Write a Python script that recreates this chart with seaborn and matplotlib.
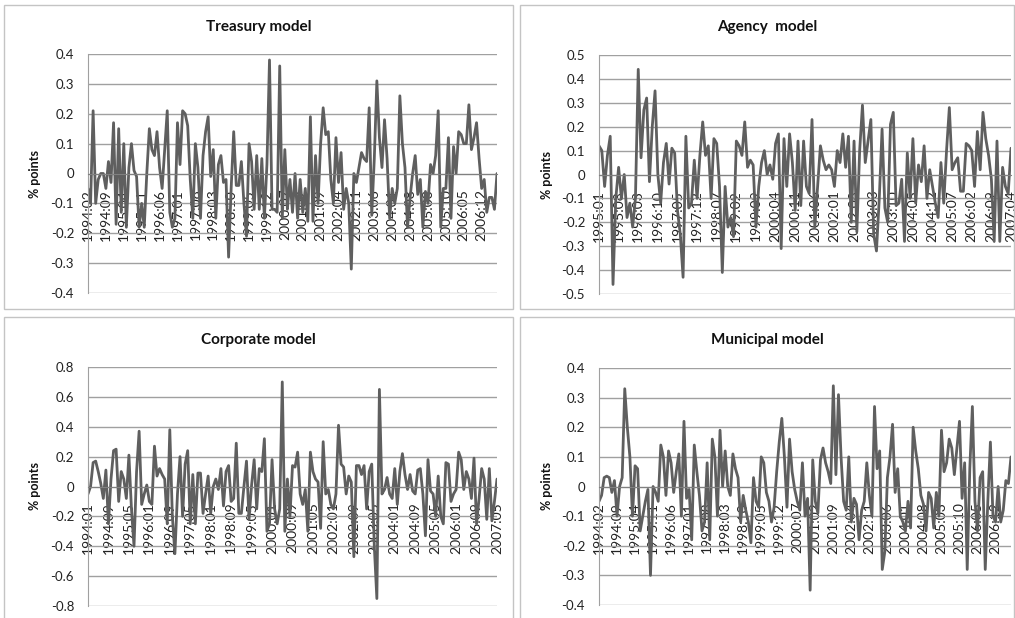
import numpy as np
import pandas as pd
import seaborn as sns
import matplotlib.pyplot as plt
from matplotlib.patches import Rectangle

# monthly residuals, % points
treasury = [-0.05, -0.10, 0.21, -0.10, -0.02, 0.0, 0.0, -0.05, 0.04, -0.03,
            0.17, -0.17, 0.15, -0.13, 0.10, -0.18, 0.02, 0.10, 0.01, -0.01,
            -0.18, -0.10, -0.18, 0.0, 0.15, 0.08, 0.06, 0.14, 0.02, -0.05,
            0.08, 0.21, -0.13, -0.18, -0.15, 0.17, 0.03, 0.21, 0.20, 0.16,
            -0.02, -0.15, 0.10, 0.02, -0.15, 0.06, 0.14, 0.19, -0.01, 0.08,
            -0.15, 0.03, 0.06, -0.03, -0.02, -0.28, -0.05, 0.14, -0.04, -0.04,
            0.04, -0.10, -0.21, 0.10, 0.04, -0.12, 0.06, -0.12, 0.05, -0.15,
            0.03, 0.38, -0.12, -0.12, -0.13, 0.36, -0.15, 0.08, -0.12, -0.02,
            -0.13, 0.0, -0.15, -0.02, -0.13, -0.05, -0.16, 0.19, -0.16, 0.06,
            -0.10, 0.10, 0.22, 0.13, 0.14, -0.02, -0.10, 0.12, -0.03, 0.07,
            -0.12, -0.05, -0.10, -0.32, 0.0, -0.03, 0.02, 0.07, 0.05, 0.04,
            0.22, -0.14, 0.05, 0.31, 0.12, 0.02, 0.18, 0.05, -0.15, -0.05,
            -0.10, -0.05, 0.26, 0.10, 0.02, -0.18, -0.08, 0.0, 0.06, -0.07,
            -0.02, -0.18, -0.06, -0.10, 0.03, 0.0, 0.06, 0.21, -0.18, -0.05,
            -0.05, 0.12, -0.15, 0.09, 0.0, 0.14, 0.13, 0.10, 0.10, 0.23,
            0.08, 0.12, 0.17, 0.05, -0.05, -0.02, -0.13, -0.08, -0.08, -0.12,
            0.0]

agency = [0.12, 0.10, -0.05, 0.08, 0.16, -0.46, -0.10, 0.03, -0.10, 0.0,
          -0.18, -0.12, -0.22, -0.10, 0.44, 0.07, 0.27, 0.32, -0.03, 0.20,
          0.35, 0.0, -0.12, 0.05, 0.13, -0.04, 0.11, 0.09, -0.15, -0.25,
          -0.43, 0.16, -0.14, -0.12, 0.06, -0.10, 0.08, 0.22, 0.08, 0.12,
          -0.10, 0.15, 0.13, -0.05, -0.41, -0.05, -0.22, -0.18, -0.26, 0.14,
          0.12, 0.08, 0.22, 0.03, 0.06, 0.04, -0.22, -0.05, 0.05, 0.10,
          0.0, 0.04, -0.02, 0.13, 0.17, -0.31, 0.15, -0.05, 0.17, 0.05,
          -0.15, 0.14, -0.13, 0.14, -0.05, -0.08, 0.23, -0.22, -0.05, 0.12,
          0.06, 0.02, 0.04, 0.02, -0.05, 0.10, 0.05, 0.17, 0.03, 0.16,
          -0.20, 0.14, -0.24, 0.10, 0.29, 0.05, 0.14, 0.23, -0.25, -0.32,
          -0.10, 0.19, -0.14, -0.20, 0.21, 0.26, -0.13, -0.12, -0.02, -0.28,
          0.09, -0.10, 0.15, -0.12, 0.04, -0.03, 0.12, -0.10, 0.02, -0.05,
          -0.12, -0.18, 0.05, -0.12, 0.10, 0.28, 0.02, 0.05, 0.07, -0.07,
          -0.07, 0.13, 0.12, 0.10, -0.05, 0.18, 0.02, 0.26, 0.15, 0.08,
          -0.02, -0.28, 0.14, -0.28, 0.03, -0.05, -0.08, 0.11]

corporate = [-0.05, 0.0, 0.16, 0.17, 0.10, 0.02, -0.08, 0.11, -0.25, 0.05,
             0.24, 0.25, -0.10, 0.10, 0.05, -0.08, 0.21, -0.15, -0.40, 0.10,
             0.37, -0.12, -0.05, 0.01, -0.10, -0.12, 0.27, 0.07, 0.12, 0.08,
             0.05, -0.25, 0.38, -0.20, -0.45, -0.05, 0.20, -0.20, 0.15, 0.24,
             -0.25, 0.08, -0.25, 0.09, 0.09, -0.18, -0.05, 0.07, -0.18, 0.0,
             0.05, -0.02, 0.12, -0.13, 0.10, 0.14, -0.10, -0.08, 0.29, -0.18,
             -0.18, 0.0, 0.17, -0.22, 0.01, 0.18, -0.15, 0.12, 0.10, 0.32,
             -0.30, -0.25, 0.18, -0.15, -0.25, -0.15, 0.70, -0.30, 0.05, -0.20,
             0.14, 0.13, 0.23, -0.05, -0.12, -0.02, -0.30, 0.23, 0.10, 0.05,
             0.03, -0.28, 0.30, -0.05, -0.02, -0.12, -0.15, -0.05, 0.41, 0.15,
             0.13, -0.05, 0.07, 0.03, -0.47, 0.14, 0.14, 0.08, 0.14, -0.15,
             0.10, 0.15, -0.40, -0.75, 0.65, -0.05, -0.02, 0.06, -0.05, -0.08,
             0.12, -0.12, 0.10, 0.22, 0.08, -0.02, 0.08, -0.03, -0.05, 0.11,
             0.12, -0.05, -0.33, 0.18, -0.03, -0.05, -0.20, 0.07, -0.20, -0.25,
             0.16, 0.15, -0.10, -0.05, -0.02, 0.23, 0.18, -0.02, 0.10, 0.05,
             -0.08, 0.19, -0.25, -0.08, 0.12, 0.05, -0.22, 0.12, -0.23, -0.10,
             0.05]

municipal = [-0.05, -0.03, 0.03, 0.035, 0.03, -0.02, 0.02, -0.10, 0.0, 0.03,
             0.33, 0.20, 0.10, -0.10, 0.07, 0.06, -0.15, -0.10, -0.05, -0.01,
             -0.30, 0.0, -0.02, -0.05, 0.14, 0.10, -0.03, 0.12, 0.08, -0.02,
             0.05, 0.11, -0.10, 0.22, -0.04, -0.01, -0.18, 0.14, 0.05, -0.03,
             -0.15, -0.12, 0.08, -0.18, 0.16, 0.10, -0.10, 0.19, 0.0, 0.12,
             0.0, -0.03, 0.11, 0.06, 0.03, -0.12, -0.03, -0.08, -0.12, -0.19,
             0.03, -0.05, -0.07, 0.10, 0.08, -0.02, -0.05, -0.12, -0.07, 0.05,
             0.15, 0.23, 0.10, -0.07, 0.16, 0.05, -0.01, -0.05, -0.08, 0.08,
             -0.10, -0.04, -0.35, 0.09, -0.05, -0.09, 0.09, 0.13, 0.08, 0.05,
             0.01, 0.34, 0.04, 0.31, 0.10, -0.05, -0.08, 0.10, -0.12, -0.04,
             -0.06, -0.18, -0.08, -0.05, 0.08, -0.03, -0.10, 0.27, 0.06, 0.12,
             -0.28, -0.22, 0.03, 0.10, 0.21, -0.02, 0.06, -0.10, -0.12, -0.15,
             -0.05, -0.14, 0.20, 0.12, 0.06, -0.03, -0.06, -0.15, -0.02, -0.04,
             -0.14, -0.02, -0.10, 0.19, 0.05, 0.08, 0.16, 0.13, 0.04, 0.13,
             0.22, -0.04, 0.08, -0.28, 0.06, 0.27, -0.05, -0.15, 0.03, 0.05,
             -0.28, -0.05, 0.15, -0.10, -0.12, 0.0, -0.12, -0.08, 0.02, 0.01,
             0.10]

titles = ['Treasury model', 'Agency  model', 'Corporate model', 'Municipal model']
starts = ['1994-02', '1995-01', '1994-01', '1994-02']
label_step = [7, 7, 8, 7]
y_ranges = [(-0.4, 0.4, 0.1), (-0.5, 0.5, 0.1), (-0.8, 0.8, 0.2), (-0.4, 0.4, 0.1)]
series = [treasury, agency, corporate, municipal]

sns.set_style('white')
plt.rcParams['font.family'] = ['Lato', 'DejaVu Sans']

W, H = 1015, 618
fig = plt.figure(figsize=(W / 100, H / 100), dpi=100)

# panel boxes (px: x0, y0, x1, y1) and plot areas
boxes = [(4, 5, 513, 309), (520, 5, 1014, 309), (4, 317, 513, 640), (520, 317, 1014, 640)]
areas = [(88, 54, 497, 293), (599, 55, 1011, 294), (88, 367, 497, 606), (599, 368, 1011, 605)]

line_col = '#5f5f5f'
grid_col = '#a0a0a0'

for i in range(4):
    bx0, by0, bx1, by1 = boxes[i]
    fig.add_artist(Rectangle((bx0 / W, 1 - by1 / H), (bx1 - bx0) / W, (by1 - by0) / H,
                             transform=fig.transFigure, fill=False,
                             edgecolor='#c4c4c4', linewidth=1))
    x0, y0, x1, y1 = areas[i]
    ax = fig.add_axes([x0 / W, 1 - y1 / H, (x1 - x0) / W, (y1 - y0) / H])

    vals = series[i]
    n = len(vals)
    months = pd.period_range(starts[i], periods=n, freq='M').strftime('%Y:%m')
    df = pd.DataFrame({'t': np.arange(n), 'v': vals})
    sns.lineplot(data=df, x='t', y='v', ax=ax, color=line_col, linewidth=2.0)

    # spine position first: moving it resets tick label styling
    for s in ['top', 'right']:
        ax.spines[s].set_visible(False)
    ax.spines['bottom'].set_position(('data', 0))
    ax.spines['bottom'].set_color('#808080')
    ax.spines['left'].set_color('#a0a0a0')

    lo, hi, step = y_ranges[i]
    ticks = np.round(np.arange(lo, hi + step / 2, step), 2)
    ax.set_ylim(lo, hi)
    ax.set_yticks(ticks)
    ax.set_yticklabels(['0' if t == 0 else f'{t:g}' for t in ticks])
    ax.set_xlim(0, n - 1)
    pos = np.arange(0, n, label_step[i])
    ax.set_xticks(pos)
    ax.set_xticklabels([months[p] for p in pos], rotation=90, va='top', ha='center')

    ax.grid(axis='y', color=grid_col, linewidth=1)
    ax.set_axisbelow(True)
    ax.tick_params(axis='y', length=0, pad=10, labelsize=9.5, colors='#222222')
    ax.tick_params(axis='x', length=0, pad=11, labelsize=10, colors='#222222')
    ax.set_xlabel('')
    ax.set_ylabel('')
    ax.patch.set_alpha(0)

    cx = (bx0 + bx1) / 2 / W
    ty = 27 if i < 2 else 340
    fig.text(cx, 1 - ty / H, titles[i], ha='center', va='center',
             fontsize=11, fontweight='bold', color='#111111')
    lx = 35 if i % 2 == 0 else 547
    fig.text(lx / W, 1 - ((y0 + y1) / 2) / H, '% points', rotation=90,
             ha='center', va='center', fontsize=9, fontweight='bold', color='#111111')

fig.savefig('out.png', dpi=100)
